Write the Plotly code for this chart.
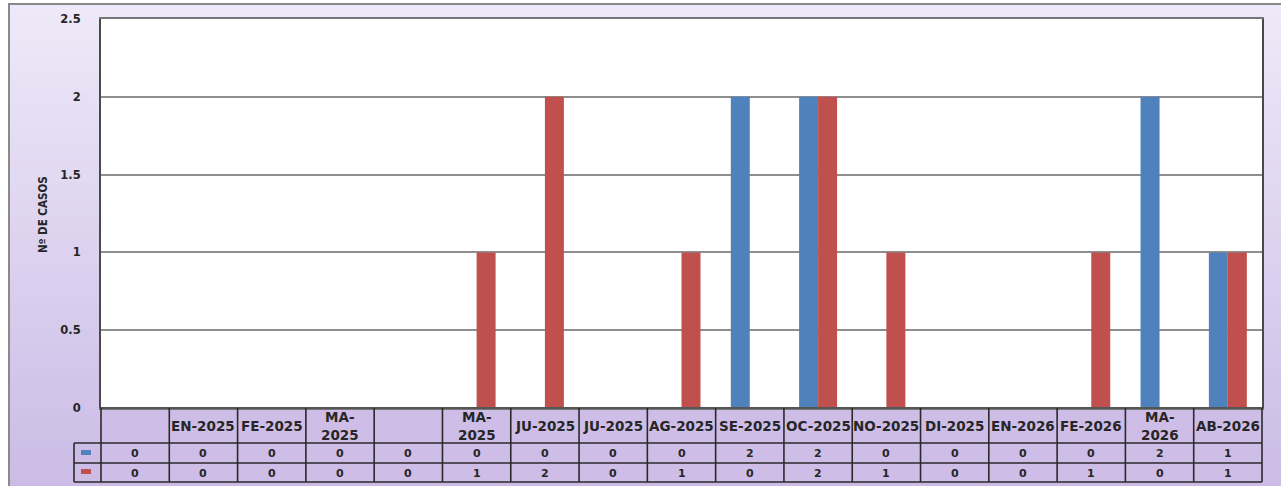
import plotly.graph_objects as go

# Monthly case counts, two series, shown as grouped bars with a data table below
months = ["", "EN-2025", "FE-2025", "MA-\n2025", "", "MA-\n2025", "JU-2025", "JU-2025",
          "AG-2025", "SE-2025", "OC-2025", "NO-2025", "DI-2025", "EN-2026", "FE-2026",
          "MA-\n2026", "AB-2026"]
serie_azul = [0, 0, 0, 0, 0, 0, 0, 0, 0, 2, 2, 0, 0, 0, 0, 2, 1]
serie_roja = [0, 0, 0, 0, 0, 1, 2, 0, 1, 0, 2, 1, 0, 0, 1, 0, 1]
y_ticks = [0, 0.5, 1, 1.5, 2, 2.5]

AZUL = "#4f81bd"
ROJO = "#c0504d"
W, H = 1281, 486
L, R, T, B = 101, 1262, 19, 408  # plot-area edges in pixels
PW, PH = R - L, B - T
n = len(months)
idx = list(range(n))


def px(x):
    return (x - L) / PW


def py(y):
    return (B - y) / PH


fig = go.Figure()
fig.add_trace(go.Bar(x=idx, y=serie_azul, marker=dict(color=AZUL, line=dict(width=0)),
                     hoverinfo="skip"))
fig.add_trace(go.Bar(x=idx, y=serie_roja, marker=dict(color=ROJO, line=dict(width=0)),
                     hoverinfo="skip"))

shapes = []

# soft vertical gradient behind the whole chart
top_c = (0xee, 0xe9, 0xf8)
bot_c = (0xcb, 0xbb, 0xe6)
bands = 60
y0, y1 = 4, H + 4
for k in range(bands):
    t = k / (bands - 1)
    c = tuple(round(top_c[j] + (bot_c[j] - top_c[j]) * t) for j in range(3))
    ya = y0 + (y1 - y0) * k / bands
    yb = y0 + (y1 - y0) * (k + 1) / bands + 1
    shapes.append(dict(type="rect", xref="paper", yref="paper", layer="below",
                       x0=px(9), x1=px(W + 5), y0=py(ya), y1=py(yb),
                       fillcolor="rgb(%d,%d,%d)" % c, line=dict(width=0)))

# white plot area on top of the gradient
shapes.append(dict(type="rect", xref="paper", yref="paper", layer="below",
                   x0=0, x1=1, y0=0, y1=1, fillcolor="white", line=dict(width=0)))

# outer chart frame
shapes.append(dict(type="rect", xref="paper", yref="paper", layer="below",
                   x0=px(9), x1=px(W + 10), y0=py(4), y1=py(H + 10),
                   fillcolor="rgba(0,0,0,0)", line=dict(color="#8a8a8a", width=2)))

# data table below the plot
tab_top, row1, row2, tab_bot = 408, 443, 463, 482
key_left = 74
shapes.append(dict(type="rect", xref="paper", yref="paper", layer="below",
                   x0=px(L), x1=px(R), y0=py(tab_top), y1=py(tab_bot),
                   fillcolor="#cebde7", line=dict(width=0)))
shapes.append(dict(type="rect", xref="paper", yref="paper", layer="below",
                   x0=px(key_left), x1=px(L), y0=py(row1), y1=py(tab_bot),
                   fillcolor="#cdbce6", line=dict(width=0)))
line_c = "#2a2a2a"
for yy in (row1, row2, tab_bot):
    shapes.append(dict(type="line", xref="paper", yref="paper",
                       x0=px(key_left), x1=px(R), y0=py(yy), y1=py(yy),
                       line=dict(color=line_c, width=1.6)))
shapes.append(dict(type="line", xref="paper", yref="paper",
                   x0=px(L), x1=px(R), y0=py(tab_top), y1=py(tab_top),
                   line=dict(color="#555555", width=2)))
for k in range(n + 1):
    xx = k / n
    shapes.append(dict(type="line", xref="paper", yref="paper",
                       x0=xx, x1=xx, y0=py(tab_top), y1=py(tab_bot),
                       line=dict(color=line_c, width=1.6)))
shapes.append(dict(type="line", xref="paper", yref="paper",
                   x0=px(key_left), x1=px(key_left), y0=py(row1), y1=py(tab_bot),
                   line=dict(color=line_c, width=1.6)))
# legend keys in the first column
for (ya, col) in ((450, AZUL), (469, ROJO)):
    shapes.append(dict(type="rect", xref="paper", yref="paper",
                       x0=px(81), x1=px(91), y0=py(ya), y1=py(ya + 5),
                       fillcolor=col, line=dict(width=0)))

annotations = []
txt_font = dict(family="DejaVu Sans, Arial, sans-serif", size=13.5, color="#262626")
val_font = dict(family="DejaVu Sans, Arial, sans-serif", size=11, color="#262626")
for i, lab in enumerate(months):
    if lab:
        annotations.append(dict(x=i, xref="x", y=py((tab_top + row1) / 2), yref="paper",
                                text="<b>" + lab.replace("\n", "<br>") + "</b>",
                                showarrow=False, font=txt_font, xanchor="center",
                                yanchor="middle"))
    annotations.append(dict(x=i, xref="x", y=py((row1 + row2) / 2 + 0.5), yref="paper",
                            text="<b>%d</b>" % serie_azul[i], showarrow=False,
                            font=val_font, xanchor="center", yanchor="middle"))
    annotations.append(dict(x=i, xref="x", y=py((row2 + tab_bot) / 2 + 0.5), yref="paper",
                            text="<b>%d</b>" % serie_roja[i], showarrow=False,
                            font=val_font, xanchor="center", yanchor="middle"))

annotations.append(dict(x=px(43), xref="paper", y=py(215), yref="paper",
                        text="<b>Nº DE CASOS</b>", textangle=-90, showarrow=False,
                        font=dict(family="Liberation Sans Narrow, DejaVu Sans Condensed, Arial Narrow, sans-serif",
                                  size=11.5, color="#262626"),
                        xanchor="center", yanchor="middle"))

fig.update_layout(
    width=W, height=H,
    margin=dict(l=L, r=W - R, t=T, b=H - B, pad=0),
    paper_bgcolor="white",
    plot_bgcolor="white",
    barmode="group",
    bargap=0.444,
    bargroupgap=0,
    showlegend=False,
    shapes=shapes,
    annotations=annotations,
    xaxis=dict(range=[-0.5, n - 0.5], showticklabels=False, showgrid=False,
               zeroline=False, showline=True, mirror=True, linecolor="#777777",
               linewidth=2, ticks=""),
    yaxis=dict(range=[0, 2.5], tickvals=y_ticks, ticktext=["<b>%g</b>" % v for v in y_ticks],
               showgrid=True, gridcolor="#8e8e8e", gridwidth=2, zeroline=False,
               showline=True, mirror=True, linecolor="#4a4a4a", linewidth=2,
               ticks="", ticklabelstandoff=16,
               tickfont=dict(family="DejaVu Sans, Arial, sans-serif", size=11.5,
                             color="#262626")),
)

fig.write_html("out.html", config={"displayModeBar": False})
